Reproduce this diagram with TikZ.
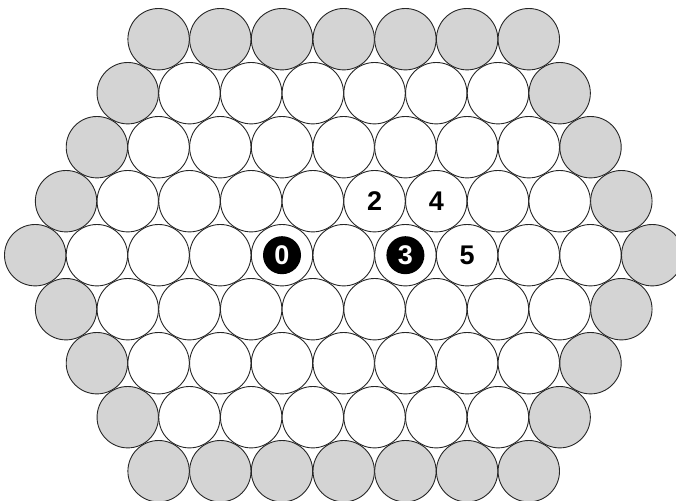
\documentclass[tikz,border=0pt]{standalone}
\usepackage{fontspec}
\setmainfont{Liberation Sans}
\begin{document}
\begin{tikzpicture}[x=1pt,y=1pt,
  cell/.style={circle,draw=black!85,line width=0.9pt,fill=white,minimum size=61.4pt,inner sep=0pt},
  edgecell/.style={cell,fill=black!17},
  label/.style={font=\fontsize{27}{27}\selectfont\bfseries,inner sep=0pt},
  disc/.style={circle,fill=black,minimum size=38pt,inner sep=0pt,text=white,font=\fontsize{27}{27}\selectfont\bfseries}]
\useasboundingbox (0,0) rectangle (676,500);
\clip (0,0) rectangle (676,500);
\foreach \r in {0,...,8}{
  \pgfmathtruncatemacro{\n}{11-abs(\r-4)}
  \pgfmathtruncatemacro{\last}{\n-1}
  \foreach \k in {0,...,\last}{
    \pgfmathsetmacro{\xx}{343.7+(\k-(\n-1)/2)*61.7}
    \pgfmathsetmacro{\yy}{500-39.2-54*\r}
    \pgfmathtruncatemacro{\edge}{(\r==0)||(\r==8)||(\k==0)||(\k==\last)}
    \ifnum\edge=1 \def\sty{edgecell}\else\def\sty{cell}\fi
    \node[\sty] (c-\r-\k) at (\xx,\yy) {};
  }
}
\node[disc] (d0) at (c-4-4) {0};
\node[disc] (d3) at (c-4-6) {3};
\node[label] (l2) at (c-3-5) {2};
\node[label] (l4) at (c-3-6) {4};
\node[label] (l5) at (c-4-7) {5};
\end{tikzpicture}
\end{document}
